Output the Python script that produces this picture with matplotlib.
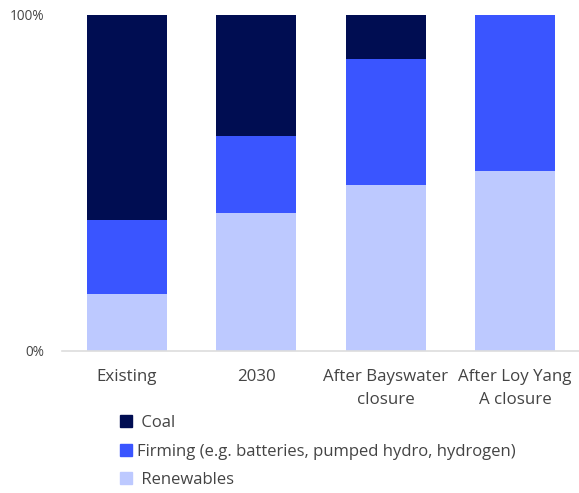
import matplotlib
matplotlib.use('Agg')
import matplotlib.pyplot as plt
from matplotlib.patches import Patch
import numpy as np

plt.rcParams['font.family'] = ['Open Sans', 'DejaVu Sans']

# ── Data (shares of generation mix) ──────────────────────────────────────────
categories = ['Existing', '2030', 'After Bayswater\nclosure', 'After Loy Yang\nA closure']
renewables = [0.17, 0.41, 0.494, 0.536]
firming    = [0.22, 0.23, 0.375, 0.464]
coal       = [0.61, 0.36, 0.131, 0.0]
legend_labels = [' Coal', 'Firming (e.g. batteries, pumped hydro, hydrogen)', ' Renewables']

colors = {'coal': '#000D52', 'firming': '#3A55FF', 'renewables': '#BDC9FF'}

fig = plt.figure(figsize=(5.79, 4.93), dpi=100)
ax = fig.add_axes([62 / 579, 1 - 351 / 493, 518 / 579, 336 / 493])

x = np.arange(len(categories))
w = 0.615
ax.bar(x, renewables, w, color=colors['renewables'])
ax.bar(x, firming, w, bottom=renewables, color=colors['firming'])
ax.bar(x, coal, w, bottom=np.array(renewables) + np.array(firming), color=colors['coal'])

ax.set_xlim(-0.5, 3.5)
ax.set_ylim(0, 1)
ax.set_yticks([0, 1])
ax.set_yticklabels(['0%', '100%'], fontsize=9.8, color='#444444')
ax.set_xticks(x)
ax.set_xticklabels(categories, fontsize=12.2, color='#444444', linespacing=1.55)
ax.tick_params(axis='both', length=0)
ax.tick_params(axis='y', pad=13)
ax.tick_params(axis='x', pad=13)
for s in ('top', 'right', 'left'):
    ax.spines[s].set_visible(False)
ax.spines['bottom'].set_color('#dddddd')
ax.spines['bottom'].set_linewidth(1.2)

handles = [Patch(color=colors['coal'], label=legend_labels[0]),
           Patch(color=colors['firming'], label=legend_labels[1]),
           Patch(color=colors['renewables'], label=legend_labels[2])]
leg = fig.legend(handles=handles, loc='upper left', bbox_to_anchor=(105 / 579, 1 - 400 / 493),
                 frameon=False, fontsize=12, handlelength=0.7, handleheight=0.7,
                 handletextpad=0.3, labelspacing=0.75)
for t in leg.get_texts():
    t.set_color('#444444')

fig.savefig('out.png', dpi=100)
